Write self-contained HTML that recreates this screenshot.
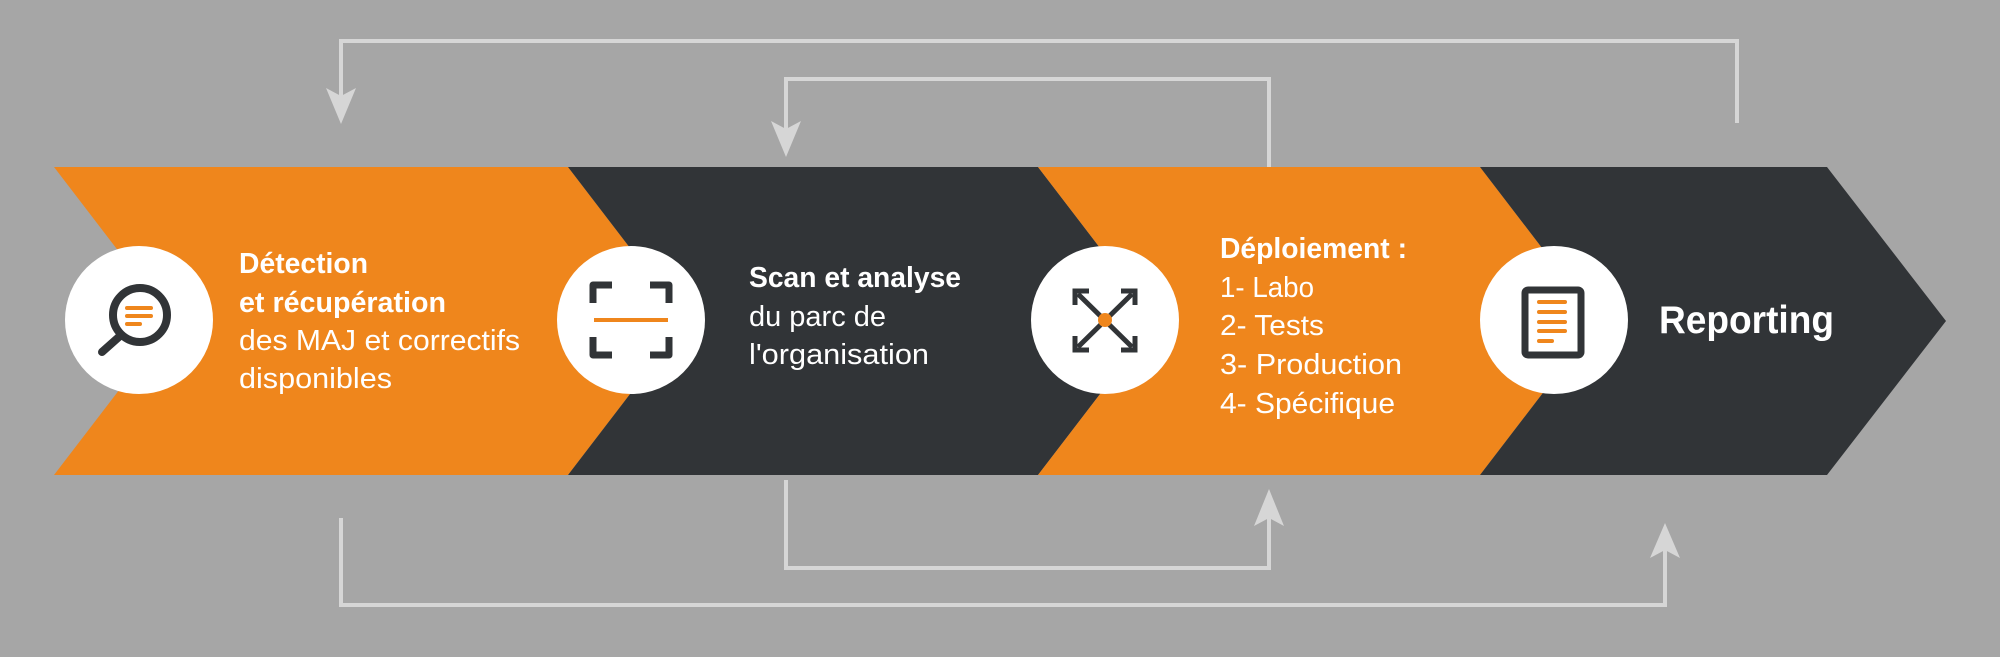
<!DOCTYPE html>
<html><head><meta charset="utf-8"><style>html,body{margin:0;padding:0;background:#a6a6a6}svg{display:block}text{font-family:"Liberation Sans Narrow","Liberation Sans",sans-serif;fill:#fff}</style></head>
<body>
<svg width="2000" height="657" viewBox="0 0 2000 657" xmlns="http://www.w3.org/2000/svg">
<rect width="2000" height="657" fill="#a6a6a6"/>
<!-- connectors -->
<g fill="none" stroke="#d6d6d6" stroke-width="4">
<polyline points="1737,123 1737,41 341,41 341,100"/>
<polyline points="1269,167 1269,79 786,79 786,135"/>
<polyline points="786,480 786,568 1269,568 1269,510"/>
<polyline points="341,518 341,605 1665,605 1665,545"/>
</g>
<g fill="#d6d6d6">
<polygon points="326,88 341,96 356,88 341,124"/>
<polygon points="771,121 786,129 801,121 786,157"/>
<polygon points="1254,526 1269,518 1284,526 1269,489"/>
<polygon points="1650,558 1665,550 1680,558 1665,523"/>
</g>
<!-- band -->
<polygon points="54,167 568,167 686,321 568,475 54,475 172,321" fill="#ef861c"/>
<polygon points="568,167 1038,167 1156,321 1038,475 568,475 686,321" fill="#313437"/>
<polygon points="1038,167 1480,167 1598,321 1480,475 1038,475 1156,321" fill="#ef861c"/>
<polygon points="1480,167 1827,167 1946,321 1827,475 1480,475 1598,321" fill="#313437"/>
<!-- circles -->
<g fill="#fff">
<circle cx="139" cy="320" r="74"/>
<circle cx="631" cy="320" r="74"/>
<circle cx="1105" cy="320" r="74"/>
<circle cx="1554" cy="320" r="74"/>
</g>
<!-- magnifier -->
<circle cx="140" cy="315" r="27" fill="none" stroke="#313437" stroke-width="8"/>
<line x1="120" y1="336" x2="102" y2="352" stroke="#313437" stroke-width="8" stroke-linecap="round"/>
<g stroke="#ef861c" stroke-width="4" stroke-linecap="round">
<line x1="127" y1="308" x2="151" y2="308"/><line x1="127" y1="316" x2="151" y2="316"/><line x1="127" y1="324" x2="140" y2="324"/>
</g>
<!-- scan -->
<g fill="none" stroke="#313437" stroke-width="7" stroke-linejoin="round">
<polyline points="593,303 593,285 612,285"/><polyline points="650,285 669,285 669,303"/>
<polyline points="593,337 593,355 612,355"/><polyline points="650,355 669,355 669,337"/>
</g>
<line x1="594" y1="320" x2="668" y2="320" stroke="#ef861c" stroke-width="4"/>
<!-- expand -->
<g stroke="#313437" stroke-width="5" fill="none">
<line x1="1078" y1="294" x2="1132" y2="347"/><line x1="1132" y1="294" x2="1078" y2="347"/>
<polyline points="1075,305 1075,291 1089,291"/><polyline points="1121,291 1135,291 1135,305"/>
<polyline points="1075,336 1075,350 1089,350"/><polyline points="1121,350 1135,350 1135,336"/>
</g>
<circle cx="1105" cy="320" r="7" fill="#ef861c"/>
<!-- doc -->
<rect x="1525" y="290" width="56" height="65" rx="3" fill="none" stroke="#313437" stroke-width="7"/>
<g stroke="#ef861c" stroke-width="4" stroke-linecap="round">
<line x1="1539" y1="302" x2="1565" y2="302"/><line x1="1539" y1="312" x2="1565" y2="312"/><line x1="1539" y1="322" x2="1565" y2="322"/><line x1="1539" y1="331" x2="1565" y2="331"/><line x1="1539" y1="341" x2="1552" y2="341"/>
</g>
<!-- text -->
<g font-size="29" lengthAdjust="spacingAndGlyphs">
<text x="239" y="273" font-weight="bold" textLength="129" lengthAdjust="spacingAndGlyphs">Détection</text>
<text x="239" y="312" font-weight="bold" textLength="207" lengthAdjust="spacingAndGlyphs">et récupération</text>
<text x="239" y="350" textLength="281" lengthAdjust="spacingAndGlyphs">des MAJ et correctifs</text>
<text x="239" y="388" textLength="153" lengthAdjust="spacingAndGlyphs">disponibles</text>
<text x="749" y="287" font-weight="bold" textLength="212" lengthAdjust="spacingAndGlyphs">Scan et analyse</text>
<text x="749" y="326" textLength="137" lengthAdjust="spacingAndGlyphs">du parc de</text>
<text x="749" y="364" textLength="180" lengthAdjust="spacingAndGlyphs">l'organisation</text>
<text x="1220" y="258" font-weight="bold" textLength="187" lengthAdjust="spacingAndGlyphs">Déploiement :</text>
<text x="1220" y="297" textLength="94" lengthAdjust="spacingAndGlyphs">1- Labo</text>
<text x="1220" y="335" textLength="104" lengthAdjust="spacingAndGlyphs">2- Tests</text>
<text x="1220" y="374" textLength="182" lengthAdjust="spacingAndGlyphs">3- Production</text>
<text x="1220" y="413" textLength="175" lengthAdjust="spacingAndGlyphs">4- Spécifique</text>
<text x="1659" y="333" font-size="39" font-weight="bold" textLength="175" lengthAdjust="spacingAndGlyphs">Reporting</text>
</g>
</svg>
</body></html>
